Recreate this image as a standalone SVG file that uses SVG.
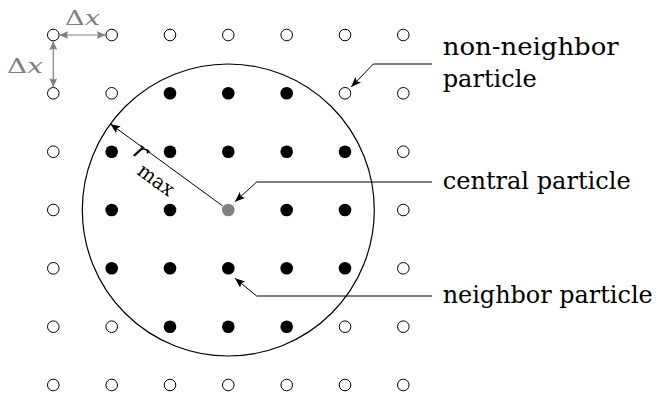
<svg xmlns="http://www.w3.org/2000/svg" width="658" height="393" viewBox="0 0 658 393">
<style>
.open{fill:#fff;stroke:#000;stroke-width:1}
.full{fill:#000}
.cen{fill:#808080}
.serif{font-family:"DejaVu Serif","Liberation Serif",serif}
.lbl{font-size:24px;fill:#000}
.dx{font-size:21px;fill:#808080}
.lead{fill:none;stroke:#000;stroke-width:1}
.garr{fill:none;stroke:#808080;stroke-width:1.2}
</style>
<defs>
<marker id="ah" markerUnits="userSpaceOnUse" markerWidth="12" markerHeight="10" refX="10" refY="4" orient="auto">
<path d="M0,0 L10,4 L0,8 L2,4 z" fill="#000"/>
</marker>
<marker id="gh" markerUnits="userSpaceOnUse" markerWidth="12" markerHeight="10" refX="9" refY="4" orient="auto-start-reverse">
<path d="M0,0 L9,4 L0,8 L1.5,4 z" fill="#808080"/>
</marker>
</defs>
<rect width="658" height="393" fill="#fff"/>
<g id="cutoff-circle">
<circle cx="228.3" cy="210" r="146" fill="none" stroke="#000" stroke-width="1.2"/>
</g>
<g id="non-neighbor-particles">
<circle class="open" cx="53.3" cy="35" r="5.8"/><circle class="open" cx="111.7" cy="35" r="5.8"/><circle class="open" cx="170" cy="35" r="5.8"/><circle class="open" cx="228.3" cy="35" r="5.8"/><circle class="open" cx="286.7" cy="35" r="5.8"/><circle class="open" cx="345" cy="35" r="5.8"/><circle class="open" cx="403.3" cy="35" r="5.8"/>
<circle class="open" cx="53.3" cy="93.3" r="5.8"/><circle class="open" cx="111.7" cy="93.3" r="5.8"/><circle class="open" cx="345" cy="93.3" r="5.8"/><circle class="open" cx="403.3" cy="93.3" r="5.8"/>
<circle class="open" cx="53.3" cy="151.7" r="5.8"/><circle class="open" cx="403.3" cy="151.7" r="5.8"/>
<circle class="open" cx="53.3" cy="210" r="5.8"/><circle class="open" cx="403.3" cy="210" r="5.8"/>
<circle class="open" cx="53.3" cy="268.3" r="5.8"/><circle class="open" cx="403.3" cy="268.3" r="5.8"/>
<circle class="open" cx="53.3" cy="326.7" r="5.8"/><circle class="open" cx="111.7" cy="326.7" r="5.8"/><circle class="open" cx="345" cy="326.7" r="5.8"/><circle class="open" cx="403.3" cy="326.7" r="5.8"/>
<circle class="open" cx="53.3" cy="385" r="5.8"/><circle class="open" cx="111.7" cy="385" r="5.8"/><circle class="open" cx="170" cy="385" r="5.8"/><circle class="open" cx="228.3" cy="385" r="5.8"/><circle class="open" cx="286.7" cy="385" r="5.8"/><circle class="open" cx="345" cy="385" r="5.8"/><circle class="open" cx="403.3" cy="385" r="5.8"/>
</g>
<g id="neighbor-particles">
<circle class="full" cx="170" cy="93.3" r="6.3"/><circle class="full" cx="228.3" cy="93.3" r="6.3"/><circle class="full" cx="286.7" cy="93.3" r="6.3"/>
<circle class="full" cx="111.7" cy="151.7" r="6.3"/><circle class="full" cx="170" cy="151.7" r="6.3"/><circle class="full" cx="228.3" cy="151.7" r="6.3"/><circle class="full" cx="286.7" cy="151.7" r="6.3"/><circle class="full" cx="345" cy="151.7" r="6.3"/>
<circle class="full" cx="111.7" cy="210" r="6.3"/><circle class="full" cx="170" cy="210" r="6.3"/><circle class="full" cx="286.7" cy="210" r="6.3"/><circle class="full" cx="345" cy="210" r="6.3"/>
<circle class="full" cx="111.7" cy="268.3" r="6.3"/><circle class="full" cx="170" cy="268.3" r="6.3"/><circle class="full" cx="228.3" cy="268.3" r="6.3"/><circle class="full" cx="286.7" cy="268.3" r="6.3"/><circle class="full" cx="345" cy="268.3" r="6.3"/>
<circle class="full" cx="170" cy="326.7" r="6.3"/><circle class="full" cx="228.3" cy="326.7" r="6.3"/><circle class="full" cx="286.7" cy="326.7" r="6.3"/>
</g>
<g id="central-particle">
<circle class="cen" cx="228.3" cy="210" r="6.3"/>
</g>
<g id="connectors">
<line class="garr" x1="59.3" y1="35" x2="105.7" y2="35" marker-start="url(#gh)" marker-end="url(#gh)"/>
<line class="garr" x1="53.3" y1="41" x2="53.3" y2="87.3" marker-start="url(#gh)" marker-end="url(#gh)"/>
<line class="lead" x1="222.6" y1="205.9" x2="110.4" y2="123.9" marker-end="url(#ah)"/>
<polyline class="lead" points="432,64 373.3,64 351.2,87" marker-end="url(#ah)"/>
<polyline class="lead" points="432,182 256.7,182 235,201.7" marker-end="url(#ah)"/>
<polyline class="lead" points="432,296 256.7,296 235,278.3" marker-end="url(#ah)"/>
</g>
<g id="dx-labels" class="serif">
<text class="dx" x="65" y="25" textLength="35" lengthAdjust="spacingAndGlyphs">Δ<tspan font-style="italic">x</tspan></text>
<text class="dx" x="7" y="73" textLength="36" lengthAdjust="spacingAndGlyphs">Δ<tspan font-style="italic">x</tspan></text>
</g>
<g id="rmax-label" class="serif" transform="translate(110.4,123.9) rotate(36.1)">
<text x="35" y="12" font-style="italic" font-size="25">r</text>
<text x="50" y="25" font-size="20" textLength="40" lengthAdjust="spacingAndGlyphs">max</text>
</g>
<g id="labels" class="serif">
<text class="lbl" x="442.7" y="55" textLength="176" lengthAdjust="spacingAndGlyphs">non-neighbor</text>
<text class="lbl" x="442.7" y="87" textLength="94" lengthAdjust="spacingAndGlyphs">particle</text>
<text class="lbl" x="442.7" y="188.5" textLength="188" lengthAdjust="spacingAndGlyphs">central particle</text>
<text class="lbl" x="442.7" y="302.5" textLength="210" lengthAdjust="spacingAndGlyphs">neighbor particle</text>
</g>
</svg>
